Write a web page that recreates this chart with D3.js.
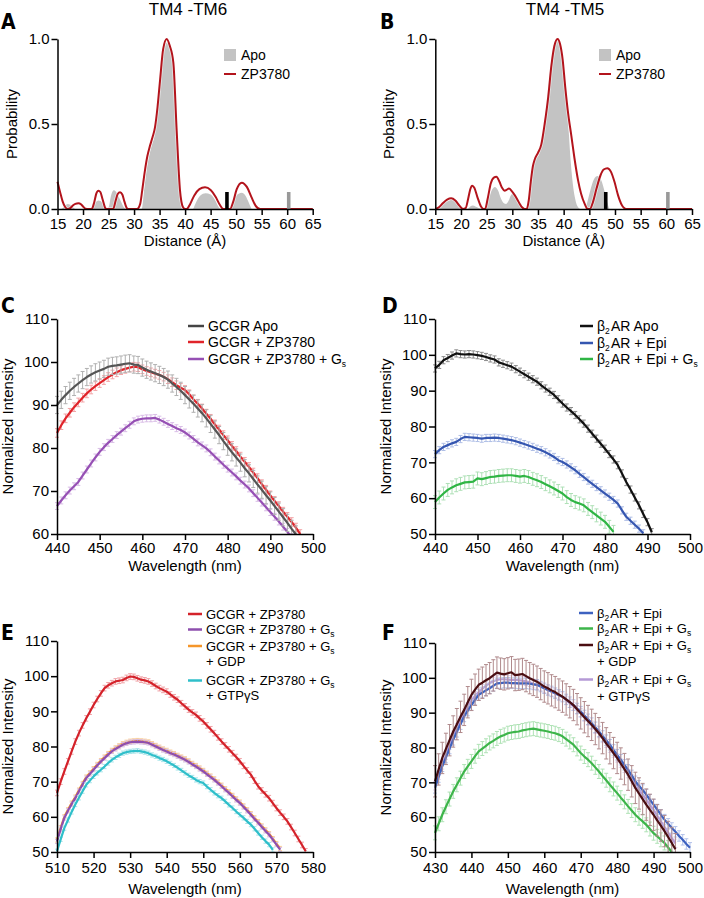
<!DOCTYPE html>
<html><head><meta charset="utf-8">
<script src="https://cdn.jsdelivr.net/npm/d3@7"></script>
<style>
html,body{margin:0;padding:0;background:#fff;}
svg text{font-family:"Liberation Sans",Arial,Helvetica,sans-serif;fill:#000;}
.axis text{font-size:15px;font-family:"Liberation Sans",Arial,Helvetica,sans-serif;}
.axis path,.axis line{stroke:#000;stroke-width:1.5px;}
.lbl{font-family:"Liberation Sans Narrow","DejaVu Sans Condensed",Arial,sans-serif;font-weight:bold;font-size:21px;}
.ttl{font-size:15px;}
.leg{font-size:14px;}
.leg2{font-size:13px;}
</style></head><body>
<svg id="fig" width="704" height="898"></svg>
<script>
// ---------- Panel A / B : distance distributions ----------
const distTicks = [15,20,25,30,35,40,45,50,55,60,65];
const probTicks = [0,0.5,1.0];
const apoA = [[15,0],[15.5,0],[16,0.005],[16.5,0.02],[17,0.03],[17.5,0.025],[18,0.01],[18.5,0],[21.5,0],[22,0.015],[22.5,0.04],[23,0.05],[23.5,0.045],[24,0.025],[24.5,0.005],[25,0.01],[25.5,0.08],[26,0.11],[26.5,0.1],[27,0.07],[27.5,0.04],[28,0.01],[28.5,0],[31.5,0],[32,0.12],[32.5,0.24],[33,0.32],[33.5,0.38],[34,0.43],[34.5,0.53],[35,0.68],[35.5,0.85],[36,0.95],[36.4,0.98],[37,0.94],[37.5,0.86],[38,0.64],[38.5,0.32],[39,0.08],[39.5,0],[41.5,0],[42,0.03],[42.5,0.06],[43,0.08],[44,0.092],[45,0.085],[45.5,0.07],[46,0.045],[46.5,0.015],[47,0],[48.8,0],[49.2,0.03],[49.8,0.07],[50.5,0.09],[51.1,0.095],[51.8,0.08],[52.3,0.05],[52.8,0.015],[53.1,0],[65,0]];
const zpA = [[15,0.16],[15.5,0.1],[16,0.045],[16.5,0.012],[17,0],[17.5,0.005],[18,0.02],[18.5,0.03],[19.1,0.034],[19.6,0.028],[20,0.015],[20.5,0.002],[21,0],[21.7,0],[22.2,0.04],[22.6,0.09],[23,0.108],[23.4,0.1],[23.8,0.06],[24.3,0.01],[24.5,0],[25.9,0],[26.4,0.05],[26.8,0.088],[27.25,0.098],[27.7,0.085],[28.1,0.045],[28.6,0.005],[29,0],[30.6,0],[31.2,0.03],[31.6,0.11],[32.1,0.22],[32.6,0.31],[33.1,0.37],[33.6,0.42],[34.1,0.48],[34.6,0.6],[35.1,0.76],[35.7,0.94],[36.4,1.0],[37,0.96],[37.7,0.86],[38.35,0.46],[39,0.11],[39.6,0.01],[40,0],[40.3,0],[41,0.03],[41.8,0.08],[42.8,0.117],[43.9,0.128],[45,0.112],[46,0.07],[46.8,0.025],[47.5,0],[48.8,0],[49.4,0.04],[50.1,0.115],[51.1,0.155],[52.1,0.13],[53,0.07],[53.8,0.02],[54.7,0],[65,0]];
const apoB = [[15,0],[15.5,0.005],[16.2,0.02],[17,0.04],[18.3,0.055],[19.2,0.04],[19.9,0.015],[20.5,0],[21.3,0],[21.8,0.015],[22.3,0.02],[22.8,0.015],[23.5,0.005],[24.2,0],[24.8,0.01],[25.4,0.06],[26,0.11],[26.6,0.13],[27.2,0.11],[27.8,0.06],[28.3,0.035],[28.8,0.03],[29.3,0.05],[29.7,0.08],[30.1,0.09],[30.6,0.08],[31.2,0.045],[31.7,0.01],[32.2,0],[33,0],[33.4,0.06],[33.8,0.18],[34.3,0.27],[34.7,0.3],[35.2,0.32],[35.9,0.42],[36.5,0.58],[37.2,0.77],[37.8,0.92],[38.5,0.99],[38.9,0.99],[39.3,0.95],[39.8,0.84],[40.5,0.66],[41,0.45],[41.4,0.27],[41.9,0.12],[42.4,0.04],[43,0.005],[43.4,0],[44.1,0],[44.6,0.04],[45.2,0.11],[45.9,0.175],[46.6,0.194],[47.3,0.17],[48,0.1],[48.5,0.04],[49,0],[65,0]];
const zpB = [[15,0],[15.7,0.01],[16.5,0.035],[17.3,0.055],[18.1,0.063],[18.9,0.05],[19.7,0.02],[20.4,0],[20.9,0.005],[21.4,0.06],[21.8,0.115],[22.2,0.137],[22.6,0.125],[23.2,0.07],[23.9,0.015],[24.4,0],[24.7,0],[25.2,0.06],[25.8,0.15],[26.4,0.185],[26.9,0.19],[27.5,0.16],[28,0.125],[28.5,0.108],[28.9,0.113],[29.35,0.12],[29.9,0.105],[30.5,0.08],[31,0.055],[31.4,0.033],[31.9,0.01],[32.4,0],[32.8,0],[33.2,0.05],[33.6,0.16],[34,0.25],[34.35,0.29],[35,0.33],[35.65,0.38],[36.3,0.5],[37,0.66],[37.6,0.84],[38.2,0.96],[38.8,1.0],[39.3,0.97],[39.8,0.88],[40.3,0.72],[40.8,0.58],[41.5,0.43],[42.1,0.3],[42.8,0.17],[43.4,0.09],[44.1,0.03],[44.7,0],[45.1,0],[45.7,0.04],[46.4,0.12],[47.2,0.2],[47.8,0.232],[48.5,0.24],[49.2,0.22],[49.9,0.16],[50.6,0.08],[51.3,0.025],[52.2,0],[65,0]];
const refBarPos = [48.2, 60.3];
const refBarH = [0.1, 0.1];

// ---------- Panel C ----------
const cWaveTicks = [440,450,460,470,480,490,500];
const cIntTicks = [60,70,80,90,100,110];
const cApo = [90.0,91.2,92.3,93.3,94.2,95.0,95.8,96.5,97.1,97.6,98.0,98.4,98.9,99.1,99.2,99.4,99.6,99.7,99.4,99.3,98.7,98.2,97.8,97.4,97.0,96.5,95.9,95.0,94.2,93.3,92.3,91.3,90.3,89.2,88.1,86.9,85.6,84.3,83.0,81.6,80.3,79.0,77.8,76.6,75.3,74.1,72.8,71.5,70.3,69.0,67.8,66.5,65.2,63.9,62.6,61.2,59.9];
const cZP = [83.5,85.3,86.9,88.2,89.5,90.6,91.7,92.7,93.6,94.4,95.1,95.8,96.5,97.1,97.6,98.1,98.4,98.7,98.9,98.8,98.3,97.9,97.6,97.3,97.0,96.6,96.0,95.3,94.6,94.0,93.5,92.5,91.3,90.3,89.2,88.0,86.8,85.5,84.3,83.0,81.8,80.5,79.3,78.0,76.8,75.6,74.3,73.0,71.6,70.3,69.0,67.7,66.5,65.2,64.0,62.8,61.5,60.0];
const cZPGs = [66.5,67.8,69.0,70.1,71.1,72.1,73.6,75.0,76.4,77.8,79.1,80.2,81.2,82.1,83.0,83.8,84.6,85.4,86.2,86.6,86.8,86.9,86.9,87.0,86.6,86.1,85.6,85.1,84.6,84.2,83.6,82.9,82.1,81.3,80.6,79.9,79.0,78.0,77.1,76.1,75.2,74.3,73.4,72.4,71.5,70.6,69.5,68.4,67.3,66.2,65.1,64.0,62.9,61.7,60.5,59.3];

// ---------- Panel D ----------
const dWaveTicks = [440,450,460,470,480,490,500];
const dIntTicks = [50,60,70,80,90,100,110];
const dApo = [96.2,97.2,98.5,99.1,99.8,100.4,100.2,100.1,100.2,100.1,99.9,99.7,99.4,99.0,98.7,97.9,97.5,97.1,96.7,96.0,95.3,94.6,93.9,93.2,92.5,91.5,90.6,89.7,88.8,87.6,86.4,85.3,84.3,83.2,82.0,80.8,79.4,78.0,76.6,75.2,73.8,72.3,70.8,69.2,66.9,64.5,62.4,60.2,58.0,55.6,53.3,50.5];
const dEpi = [72.3,73.4,74.3,74.8,75.3,75.7,76.5,77.1,77.0,76.9,76.8,76.6,76.8,76.8,76.9,76.8,76.6,76.4,76.2,75.9,75.5,75.1,74.7,74.3,73.8,73.4,72.8,72.2,71.5,70.6,70.1,69.4,68.6,67.8,66.8,65.9,64.9,64.0,63.1,62.2,61.3,60.4,59.5,58.5,56.6,54.8,53.7,52.6,51.5,50.2];
const dEpiGs = [58.9,60.2,61.3,62.3,63.0,63.6,64.0,64.4,64.5,64.6,65.5,65.3,65.6,65.9,66.0,66.2,66.3,66.4,66.4,66.2,66.0,66.2,65.9,65.4,65.0,64.5,63.9,63.3,62.7,62.0,61.3,60.3,59.5,58.9,58.5,58.0,57.0,56.1,55.2,54.3,53.4,52.0,50.6];

// ---------- Panel E ----------
const eWaveTicks = [510,520,530,540,550,560,570,580];
const eIntTicks = [50,60,70,80,90,100,110];
const eZP = [66.8,70.0,72.9,75.8,78.6,81.4,83.8,86.0,88.0,89.9,91.8,93.5,95.1,96.6,97.4,98.0,98.5,98.7,98.9,99.5,99.9,99.8,99.4,99.0,98.8,98.5,97.9,97.2,96.6,96.1,95.6,94.8,94.0,93.3,92.3,91.4,90.5,89.7,89.0,88.0,87.1,86.0,84.9,83.8,82.6,81.4,80.3,79.2,78.1,77.0,75.8,74.5,73.2,72.0,70.3,68.7,67.5,66.4,65.3,63.9,62.5,61.2,60.0,58.7,57.1,55.4,53.7,52.0,50.2];
const eZPGs = [53.0,56.5,59.7,61.7,63.6,65.3,67.3,69.2,71.0,72.2,73.4,74.6,75.7,76.7,77.7,78.6,79.3,79.9,80.5,80.9,81.2,81.3,81.4,81.3,81.2,81.0,80.5,80.0,79.5,79.0,78.6,78.1,77.7,77.2,76.7,76.2,75.6,74.9,74.3,73.6,72.9,72.1,71.3,70.5,69.6,68.7,67.7,66.8,65.8,64.8,63.9,62.8,61.7,60.6,59.4,58.3,57.1,56.0,54.9,53.5,52.1,50.7];
const eGDP = [53.4,56.9,60.0,62.0,63.9,65.6,67.6,69.5,71.3,72.5,73.7,74.9,76.0,77.0,78.0,78.9,79.6,80.2,80.8,81.2,81.5,81.6,81.7,81.6,81.5,81.3,80.8,80.3,79.8,79.3,78.9,78.4,78.0,77.5,77.0,76.5,75.9,75.2,74.6,73.9,73.2,72.4,71.6,70.8,69.9,69.0,68.0,67.1,66.1,65.1,64.2,63.1,62.0,60.9,59.7,58.6,57.4,56.3,55.2,53.8,52.4,51.0];
const eGTP = [50.2,53.6,56.8,59.1,61.4,63.5,65.4,67.3,69.1,70.3,71.5,72.5,73.4,74.3,75.3,76.2,76.9,77.5,78.1,78.4,78.6,78.7,78.8,78.6,78.4,78.1,77.6,77.2,76.7,76.3,75.8,75.2,74.6,73.9,73.2,72.5,71.8,71.2,70.5,70.0,69.6,68.6,67.7,66.8,66.0,65.3,64.4,63.4,62.5,61.5,60.6,59.7,58.7,57.8,56.6,55.4,54.2,53.1,52.1,50.6];

// ---------- Panel F ----------
const fWaveTicks = [430,440,450,460,470,480,490,500];
const fIntTicks = [50,60,70,80,90,100,110];
const fEpi = [68.4,71.5,74.6,77.1,79.7,82.2,84.5,86.7,88.9,90.6,92.2,93.7,95.1,95.8,96.4,97.0,97.7,98.4,98.5,98.6,98.6,98.5,98.5,98.4,98.4,98.4,98.3,98.1,98.0,97.5,97.0,96.5,96.1,95.6,95.1,94.6,93.8,93.0,92.2,91.2,90.3,89.2,88.1,87.0,85.8,84.6,83.3,82.1,80.8,79.3,77.9,76.5,75.0,73.6,72.0,70.3,69.0,67.8,66.5,65.0,63.6,62.2,60.7,59.3,58.1,56.9,55.8,54.6,53.5,52.3,51.2];
const fEpiGs = [55.5,58.1,60.7,63.0,65.2,67.4,69.3,71.2,73.1,74.6,76.0,77.5,78.9,79.7,80.5,81.3,81.9,82.6,83.2,83.6,84.1,84.3,84.5,84.6,84.9,85.1,85.3,85.4,85.2,85.0,84.8,84.6,84.3,84.1,83.7,83.2,82.4,81.6,80.8,79.6,78.4,77.4,76.5,75.5,74.3,73.1,71.8,70.6,69.3,68.1,66.9,65.6,64.4,63.1,61.9,60.7,59.7,58.8,57.8,56.6,55.4,54.5,53.5,52.6,51.3,50.0];
const fGDP = [70.3,73.7,77.0,79.6,82.1,84.6,86.7,88.8,90.8,93.0,95.1,96.6,98.0,98.6,99.3,99.9,100.7,101.5,101.2,101.0,101.3,101.6,100.8,100.9,101.1,100.5,99.9,99.4,98.9,98.2,97.5,97.0,96.4,95.9,95.2,94.6,93.8,93.0,92.2,91.0,89.8,88.7,87.6,86.5,85.3,84.1,82.7,81.2,79.8,78.4,77.0,75.4,73.8,72.2,70.3,68.4,66.8,65.2,63.6,62.1,60.7,59.1,57.6,56.0,54.3,52.6,50.8];
const fGTP = [69.0,72.0,75.0,77.8,80.7,83.5,85.7,87.8,89.9,91.7,93.5,94.8,95.9,96.9,97.7,98.5,99.0,99.4,99.6,99.6,99.5,99.4,99.4,99.3,99.2,99.0,98.7,98.3,97.9,97.5,97.0,96.5,96.0,95.5,95.0,94.5,93.6,92.7,91.8,90.9,90.0,88.8,87.6,86.4,85.2,84.0,82.6,81.2,79.8,78.4,77.0,75.5,74.0,72.5,71.0,69.5,68.0,66.5,65.0,63.5,62.0,60.4,58.8,57.2,55.6,54.0,52.5];

// ---------- drawing ----------
const svg = d3.select("#fig");

function richText(sel, str){
  const parts = str.split(/_(.)/);
  parts.forEach((p,i)=>{
    if(!p) return;
    if(i%2===1){
      sel.append("tspan").attr("font-size","8.5px").attr("dy",3).text(p);
      sel.append("tspan").attr("dy",-3).text("\u200A");
    } else sel.append("tspan").text(p);
  });
}

function axes(g, x, y, p, yFmt){
  const xa = g.append("g").attr("class","axis").attr("transform",`translate(0,${p.y1})`)
    .call(d3.axisBottom(x).tickValues(p.xt).tickSize(6).tickSizeOuter(0).tickPadding(p.xpad||3));
  const ya = g.append("g").attr("class","axis").attr("transform",`translate(${p.x0},0)`)
    .call(d3.axisLeft(y).tickValues(p.yt).tickSize(6).tickSizeOuter(0).tickPadding(2).tickFormat(yFmt||d3.format("d")));
  [xa,ya].forEach(a=>a.attr("font-family",null).attr("font-size",null));
  g.append("text").attr("class","ttl").attr("text-anchor","middle")
    .attr("x",(p.x0+p.x1)/2).attr("y",p.xTitleY).text(p.xTitle);
  g.append("text").attr("class","ttl").attr("text-anchor","middle")
    .attr("transform",`translate(${p.x0-p.yTitleOff},${(p.y0+p.y1)/2}) rotate(-90)`).text(p.yTitle);
  g.append("text").attr("class","lbl").attr("x",p.lx).attr("y",p.ly).text(p.letter);
}

function distPanel(p){
  const g = svg.append("g");
  const x = d3.scaleLinear().domain([15,65]).range([p.x0,p.x1]);
  const y = d3.scaleLinear().domain([0,1]).range([p.y1,p.y0]);
  const area = d3.area().x(d=>x(d[0])).y0(y(0)).y1(d=>y(d[1])).curve(d3.curveMonotoneX);
  const line = d3.line().x(d=>x(d[0])).y(d=>y(d[1])).curve(d3.curveMonotoneX);
  g.append("path").datum(p.apo).attr("d",area).attr("fill","#c3c3c3");
  g.append("path").datum(p.zp).attr("d",line).attr("fill","none").attr("stroke","#fff").attr("stroke-width",3.5).attr("opacity",0.6);
  g.append("path").datum(p.zp).attr("d",line).attr("fill","none").attr("stroke","#b3141c").attr("stroke-width",2);
  const barW = x(15.7)-x(15);
  g.selectAll("rect.bar").data(refBarPos).enter().append("rect")
    .attr("x",d=>x(d)-barW/2).attr("width",barW)
    .attr("y",(d,i)=>y(refBarH[i])).attr("height",(d,i)=>y(0)-y(refBarH[i]))
    .attr("fill",(d,i)=>i===0?"#000":"#999");
  axes(g,x,y,Object.assign({xt:distTicks,yt:probTicks},p),d3.format(".1f"));
  g.append("text").attr("text-anchor","middle").attr("font-size","17px")
    .attr("x",p.tx).attr("y",15).text(p.title);
  // legend
  g.append("rect").attr("x",p.legX).attr("y",49).attr("width",12).attr("height",12).attr("fill","#c3c3c3");
  g.append("text").attr("class","leg").attr("x",p.legX+17).attr("y",55).attr("dy","0.35em").text("Apo");
  g.append("line").attr("x1",p.legX).attr("x2",p.legX+12).attr("y1",74).attr("y2",74).attr("stroke","#b3141c").attr("stroke-width",2);
  g.append("text").attr("class","leg").attr("x",p.legX+17).attr("y",74).attr("dy","0.35em").text("ZP3780");
}

distPanel({x0:57.5,x1:312.7,y0:39,y1:209,apo:apoA,zp:zpA,title:"TM4 -TM6",tx:188,letter:"A",lx:1,ly:29,
  xTitle:"Distance (\u00C5)",xTitleY:246,yTitle:"Probability",yTitleOff:41,legX:224,xpad:3});
distPanel({x0:435.3,x1:692,y0:39,y1:209,apo:apoB,zp:zpB,title:"TM4 -TM5",tx:565,letter:"B",lx:380,ly:29,
  xTitle:"Distance (\u00C5)",xTitleY:246,yTitle:"Probability",yTitleOff:41,legX:599,xpad:3});

function specPanel(p){
  const g = svg.append("g");
  const x = d3.scaleLinear().domain([p.xt[0],p.xt[p.xt.length-1]]).range([p.x0,p.x1]);
  const y = d3.scaleLinear().domain([p.yt[0],p.yt[p.yt.length-1]]).range([p.y1,p.y0]);
  const cid = "clip"+p.letter;
  svg.append("clipPath").attr("id",cid).append("rect")
    .attr("x",p.x0-6).attr("y",p.y0-40).attr("width",p.x1-p.x0+12).attr("height",p.y1-p.y0+40);
  const plot = g.append("g").attr("clip-path",`url(#${cid})`);
  const line = d3.line().x(d=>x(d.w)).y(d=>y(d.v));
  p.series.forEach(s=>{
    const pts = s.v.map((v,i)=>({w:s.w0+i,v}));
    const eg = plot.append("g").attr("stroke",s.ec).attr("stroke-width",1).attr("fill","none");
    eg.selectAll("path").data(pts).enter().append("path").attr("d",d=>{
      const xx=x(d.w), ya=y(d.v+s.e), yb=y(d.v-s.e);
      return `M${xx},${ya}V${yb}M${xx-2},${ya}H${xx+2}M${xx-2},${yb}H${xx+2}`;
    });
    plot.append("path").datum(pts).attr("d",line).attr("fill","none").attr("stroke",s.c).attr("stroke-width",2.2).attr("stroke-linejoin","round");
  });
  axes(g,x,y,Object.assign({xTitle:"Wavelength (nm)",yTitle:"Normalized Intensity",yTitleOff:44},p));
  // legend
  p.leg.forEach(L=>{
    g.append("line").attr("x1",p.legX).attr("x2",p.legX+p.legW).attr("y1",L.y).attr("y2",L.y).attr("stroke",L.c).attr("stroke-width",2.5);
    L.t.forEach((t,k)=>{
      const tx = g.append("text").attr("class",p.legCls).attr("x",p.legX+p.legW+4).attr("y",L.y+k*p.legLH).attr("dy","0.35em");
      richText(tx,t);
    });
  });
}

specPanel({x0:57,x1:313,y0:319,y1:534,xt:cWaveTicks,yt:cIntTicks,letter:"C",lx:1,ly:313,xTitleY:571,xpad:2,
  series:[
    {v:cZPGs,w0:440,c:"#9650b4",ec:"#d9bde6",e:0.8},
    {v:cZP,w0:440,c:"#e0242a",ec:"#f2a3a6",e:1.0},
    {v:cApo,w0:440,c:"#555555",ec:"#b0b0b0",e:2.0}],
  legX:188,legW:16,legCls:"leg",legLH:16,
  leg:[{t:["GCGR Apo"],y:326,c:"#444"},{t:["GCGR + ZP3780"],y:342,c:"#e0242a"},{t:["GCGR + ZP3780 + G_s"],y:359,c:"#9650b4"}]});

specPanel({x0:435,x1:690,y0:319,y1:534,xt:dWaveTicks,yt:dIntTicks,letter:"D",lx:382,ly:313,xTitleY:571,xpad:2,
  series:[
    {v:dEpiGs,w0:440,c:"#2fb544",ec:"#aee0b6",e:1.8},
    {v:dEpi,w0:440,c:"#3556b0",ec:"#b0bfe6",e:1.0},
    {v:dApo,w0:440,c:"#111111",ec:"#8c8c8c",e:1.0}],
  legX:580,legW:13,legCls:"leg",legLH:16,
  leg:[{t:["β_2AR Apo"],y:326,c:"#111"},{t:["β_2AR + Epi"],y:343,c:"#3556b0"},{t:["β_2AR + Epi + G_s"],y:359,c:"#2fb544"}]});

specPanel({x0:57,x1:313,y0:641,y1:852,xt:eWaveTicks,yt:eIntTicks,letter:"E",lx:1,ly:640,xTitleY:894,xpad:4,
  series:[
    {v:eZP,w0:510,c:"#d4222a",ec:"#f0a2a6",e:0.8},
    {v:eGDP,w0:510,c:"#f5962a",ec:"#f9cf9c",e:0.6},
    {v:eZPGs,w0:510,c:"#8e4fae",ec:"#d6bde4",e:0.6},
    {v:eGTP,w0:510,c:"#2fbfca",ec:"#a9e4e9",e:0.6}],
  legX:188,legW:14,legCls:"leg2",legLH:15,
  leg:[{t:["GCGR + ZP3780"],y:614,c:"#d4222a"},{t:["GCGR + ZP3780 + G_s"],y:629.5,c:"#8e4fae"},
       {t:["GCGR + ZP3780 + G_s","+ GDP"],y:646,c:"#f5962a"},{t:["GCGR + ZP3780 + G_s","+ GTPγS"],y:680.5,c:"#2fbfca"}]});

specPanel({x0:435,x1:690,y0:643,y1:852,xt:fWaveTicks,yt:fIntTicks,letter:"F",lx:382,ly:640,xTitleY:894,xpad:4,
  series:[
    {v:fGTP,w0:430,c:"#b59ad6",ec:"#ddd0ee",e:1.2},
    {v:fEpiGs,w0:430,c:"#3db54a",ec:"#afe2b5",e:2.0},
    {v:fEpi,w0:430,c:"#3d62c0",ec:"#b3c2ea",e:1.5},
    {v:fGDP,w0:430,c:"#4a0e12",ec:"#b08a8c",e:4.5}],
  legX:579,legW:14,legCls:"leg2",legLH:16.5,
  leg:[{t:["β_2AR + Epi"],y:613,c:"#3d62c0"},{t:["β_2AR + Epi + G_s"],y:628.5,c:"#3db54a"},
       {t:["β_2AR + Epi + G_s","+ GDP"],y:645,c:"#4a0e12"},{t:["β_2AR + Epi + G_s","+ GTPγS"],y:679.5,c:"#b59ad6"}]});
</script>
</body></html>
